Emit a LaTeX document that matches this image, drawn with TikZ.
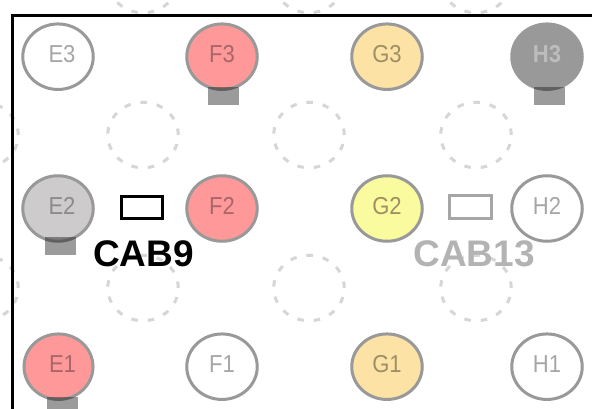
\documentclass[tikz,border=0pt]{standalone}
\usepackage{fontspec}
\usepackage{graphicx}
\setmainfont{Liberation Sans}
\usetikzlibrary{shapes.geometric}
\definecolor{rimgray}{HTML}{999999}
\definecolor{ghost}{HTML}{D6D6D6}
\definecolor{pinkfill}{HTML}{FF9999}
\definecolor{sandfill}{HTML}{FCE2A4}
\definecolor{lemonfill}{HTML}{FAFA9E}
\definecolor{stonefill}{HTML}{CDCBCB}
\definecolor{darkfill}{HTML}{999999}
\definecolor{labgray}{HTML}{A6A6A6}
\definecolor{labpink}{HTML}{A8666A}
\definecolor{labsand}{HTML}{A08F65}
\definecolor{labstone}{HTML}{8C8A8A}
\definecolor{labdark}{HTML}{BDBDBD}
\definecolor{capgray}{HTML}{B3B3B3}
\newcommand{\narrow}[1]{\raisebox{-5.7pt}[0pt][0pt]{\makebox[0pt]{\scalebox{0.9}[1]{#1}}}}
\newcommand{\narrowe}[1]{\raisebox{-5.7pt}[0pt][0pt]{\makebox[0pt]{\hspace*{8pt}\scalebox{0.9}[1]{#1}}}}
\tikzset{
  well/.style={ellipse,draw=rimgray,line width=3pt,minimum width=70.5pt,minimum height=65.5pt,inner sep=0pt,font=\fontsize{24.5}{24.5}\selectfont,text=labgray},
  pinkwell/.style={well,fill=pinkfill,text=labpink},
  sandwell/.style={well,fill=sandfill,text=labsand},
  lemonwell/.style={well,fill=lemonfill,text=labsand},
  stonewell/.style={well,fill=stonefill,text=labstone},
  darkwell/.style={well,fill=darkfill,text=labdark,font=\fontsize{24.5}{24.5}\selectfont\bfseries},
  ghostwell/.style={ellipse,draw=ghost,line width=3pt,dash pattern=on 6.5pt off 10pt,minimum width=70.5pt,minimum height=65.5pt,inner sep=0pt},
  foot/.style={fill=black!93,fill opacity=0.42,draw=none,minimum width=31pt,minimum height=18pt,inner sep=0pt},
  cabbox/.style={draw=black,line width=3.6pt,fill=white,minimum width=41pt,minimum height=22pt,inner sep=0pt},
  cabboxgray/.style={draw=labgray,line width=3pt,fill=white,minimum width=42pt,minimum height=22pt,inner sep=0pt},
  cablabel/.style={font=\fontsize{37}{37}\selectfont\bfseries,inner sep=0pt,anchor=base}
}
\begin{document}
\begin{tikzpicture}[x=1pt,y=-1pt]
\useasboundingbox (0,0) rectangle (592,409);
\begin{scope}
\clip (0,0) rectangle (592,409);
\fill[white] (0,0) rectangle (592,409);
\foreach \n/\x/\y in {a/143/-20,b/309/-20,c/476/-20,d/-17/135,e/143/135,f/309/135,g/476/135,h/-17/288,i/143/288,j/309/288,k/476/288}{
  \node[ghostwell] (ghost\n) at (\x,\y) {};
}
\coordinate (framebl) at (12,409);
\coordinate (frametl) at (12,15.5);
\coordinate (frametr) at (592,15.5);
\draw[black,line width=3pt] (framebl) -- (frametl) -- (frametr);
\node[well] (E3) at (58,56.7) {\narrowe{E3}};
\node[pinkwell] (F3) at (222,56.7) {\narrow{F3}};
\node[sandwell] (G3) at (387,56.7) {\narrow{G3}};
\node[darkwell,draw=darkfill] (H3) at (547,56.7) {\narrow{H3}};
\node[stonewell] (E2) at (58,208.5) {\narrowe{E2}};
\node[pinkwell] (F2) at (222,208.5) {\narrow{F2}};
\node[lemonwell] (G2) at (387,208.5) {\narrow{G2}};
\node[well] (H2) at (547,208.5) {\narrow{H2}};
\node[pinkwell,minimum width=69pt] (E1) at (58.5,366.7) {\narrowe{E1}};
\node[well] (F1) at (222,366.7) {\narrow{F1}};
\node[sandwell] (G1) at (387,366.7) {\narrow{G1}};
\node[well] (H1) at (547,366.7) {\narrow{H1}};
\node[foot] (footF3) at (223.5,96) {};
\node[foot] (footH3) at (549.5,96) {};
\node[foot] (footE2) at (60.5,246) {};
\node[foot] (footE1) at (62.5,405.7) {};
\node[cabbox] (box9) at (142,207.5) {};
\node[cabboxgray] (box13) at (470,207) {};
\node[cablabel,text=black] (cab9) at (143.5,266) {CAB9};
\node[cablabel,text=capgray] (cab13) at (474,266) {CAB13};
\end{scope}
\end{tikzpicture}
\end{document}
